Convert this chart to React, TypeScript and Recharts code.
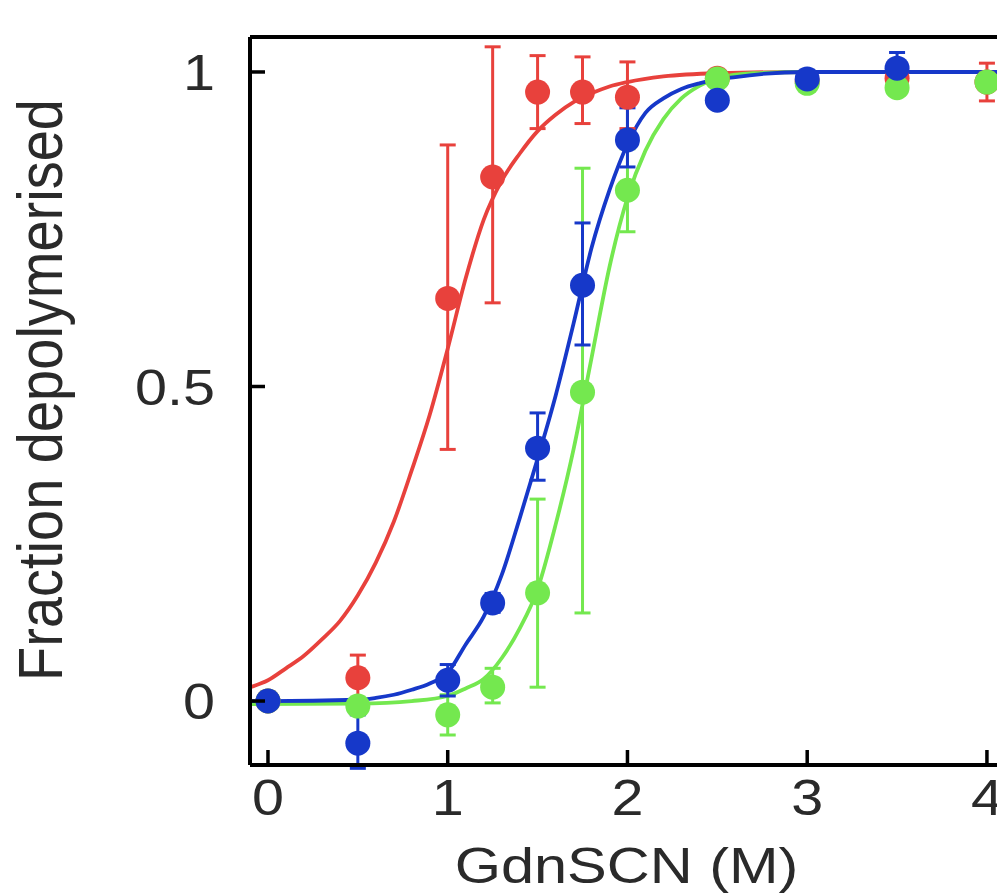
import React from 'react';
import { ComposedChart, Line, Scatter, XAxis, YAxis, ErrorBar, ReferenceLine } from 'recharts';

// ---- Data ----
const X_TICKS = [0, 1, 2, 3, 4];
const Y_TICKS = [0, 0.5, 1];
const X_DOMAIN: [number, number] = [-0.1, 4.056];
const Y_DOMAIN: [number, number] = [-0.1017, 1.0556];

const X_LABEL = 'GdnSCN (M)';
const Y_LABEL = 'Fraction depolymerised';

// measured points
const redX = [0, 0.5, 1, 1.25, 1.5, 1.75, 2, 2.5, 3, 3.5, 4];
const redY = [0.0, 0.037, 0.64, 0.833, 0.968, 0.968, 0.96, 0.99, 0.985, 0.99, 0.984];
const redErr = [[0.01, 0.01], [0.036, 0.036], [0.24, 0.244], [0.2, 0.207], [0.058, 0.058], [0.05, 0.056], [0.05, 0.056], [0.01, 0.01], [0.01, 0.01], [0.01, 0.01], [0.03, 0.03]];

const greenX = [0, 0.5, 1, 1.25, 1.5, 1.75, 2, 2.5, 3, 3.5, 4];
const greenY = [0.0, -0.008, -0.022, 0.022, 0.172, 0.491, 0.812, 0.989, 0.982, 0.975, 0.984];
const greenErr = [[0.01, 0.01], [0.01, 0.01], [0.032, 0.032], [0.025, 0.03], [0.15, 0.149], [0.351, 0.356], [0.066, 0.066], [0.01, 0.01], [0.01, 0.01], [0.01, 0.01], [0.01, 0.01]];

const blueX = [0, 0.5, 1, 1.25, 1.5, 1.75, 2, 2.5, 3, 3.5];
const blueY = [0.0, -0.067, 0.033, 0.156, 0.402, 0.661, 0.892, 0.955, 0.989, 1.006];
const blueErr = [[0.01, 0.01], [0.04, 0.045], [0.025, 0.025], [0.015, 0.015], [0.051, 0.056], [0.095, 0.099], [0.043, 0.051], [0.01, 0.01], [0.01, 0.01], [0.02, 0.025]];

// fitted curves
const redFitX = [-0.1, 0, 0.1, 0.2, 0.3, 0.4, 0.5, 0.6, 0.7, 0.8, 0.9, 1.0, 1.1, 1.2, 1.3, 1.4, 1.5, 1.6, 1.7, 1.8, 1.9, 2.0, 2.2, 2.5, 3.0, 4.056];
const redFitY = [0.022, 0.033, 0.052, 0.072, 0.098, 0.127, 0.168, 0.22, 0.285, 0.367, 0.455, 0.56, 0.672, 0.765, 0.827, 0.87, 0.906, 0.932, 0.952, 0.966, 0.977, 0.984, 0.993, 0.998, 1.0, 1.0];

const greenFitX = [-0.1, 0.5, 0.8, 1.0, 1.1, 1.2, 1.3, 1.4, 1.5, 1.6, 1.7, 1.8, 1.9, 2.0, 2.1, 2.2, 2.3, 2.4, 2.5, 2.7, 3.0, 4.056];
const greenFitY = [-0.005, -0.004, 0.0, 0.008, 0.02, 0.035, 0.068, 0.115, 0.178, 0.28, 0.4, 0.545, 0.69, 0.8, 0.875, 0.925, 0.958, 0.978, 0.99, 0.998, 1.0, 1.0];

const blueFitX = [-0.1, 0, 0.5, 0.6, 0.7, 0.8, 0.9, 1.0, 1.1, 1.2, 1.3, 1.4, 1.5, 1.6, 1.7, 1.8, 1.9, 2.0, 2.1, 2.2, 2.3, 2.4, 2.6, 3.0, 4.056];
const blueFitY = [0, 0, 0.002, 0.005, 0.01, 0.018, 0.028, 0.045, 0.09, 0.134, 0.2, 0.29, 0.385, 0.485, 0.6, 0.72, 0.812, 0.885, 0.935, 0.958, 0.973, 0.982, 0.992, 1.0, 1.0];

const RED = '#e8413c';
const GREEN = '#74e84f';
const BLUE = '#1638c9';
const TEXT = '#2a2a2a';
const FONT = '"Liberation Sans", Arial, sans-serif';

const pts = (xs: number[], ys: number[], errs?: number[][]) =>
  xs.map((x, i) => ({ x, y: ys[i], err: errs ? errs[i] : undefined }));

const redPts = pts(redX, redY, redErr);
const greenPts = pts(greenX, greenY, greenErr);
const bluePts = pts(blueX, blueY, blueErr);
const redFit = pts(redFitX, redFitY);
const greenFit = pts(greenFitX, greenFitY);
const blueFit = pts(blueFitX, blueFitY);

const fmt = (v: number) => (v === 0.5 ? '0.5' : String(v));

const YTick = (props: any) => {
  const { x, y, payload } = props;
  return (
    <g>
      <line x1={x} x2={x + 15} y1={y} y2={y} stroke="#000" strokeWidth={3.5} />
      <text
        transform={`translate(${x - 35},${y + 18}) scale(1.15,1)`}
        textAnchor="end"
        fontSize={50}
        fontFamily={FONT}
        fill={TEXT}
      >
        {fmt(payload.value)}
      </text>
    </g>
  );
};

const XTick = (props: any) => {
  const { x, y, payload } = props;
  return (
    <g>
      <line x1={x} x2={x} y1={y} y2={y - 15} stroke="#000" strokeWidth={3.5} />
      <text
        transform={`translate(${x},${y + 50}) scale(1.15,1)`}
        textAnchor="middle"
        fontSize={50}
        fontFamily={FONT}
        fill={TEXT}
      >
        {fmt(payload.value)}
      </text>
    </g>
  );
};

const XTitle = (props: any) => {
  const vb = props.viewBox || { x: 250, y: 765, width: 747, height: 128 };
  const cx = vb.x + vb.width / 2 + 3;
  return (
    <text
      transform={`translate(${cx},${vb.y + 118}) scale(1.19,1)`}
      textAnchor="middle"
      fontSize={50}
      fontFamily={FONT}
      fill={TEXT}
    >
      {X_LABEL}
    </text>
  );
};

const YTitle = (props: any) => {
  const vb = props.viewBox || { x: 0, y: 37, width: 250, height: 728 };
  const cy = vb.y + vb.height / 2 - 11;
  return (
    <text
      transform={`translate(${vb.x + 62},${cy}) scale(1.12,1) rotate(-90)`}
      textAnchor="middle"
      fontSize={56}
      fontFamily={FONT}
      fill={TEXT}
    >
      {Y_LABEL}
    </text>
  );
};

const Dot = (color: string) => (props: any) => {
  const { cx, cy } = props;
  if (cx == null || cy == null) return null;
  return <circle cx={cx} cy={cy} r={12.5} fill={color} />;
};

export default function App() {
  return (
    <div style={{ position: 'absolute', left: 0, top: 0, width: 997, height: 893, background: '#fff' }}>
      <ComposedChart width={997} height={893} margin={{ top: 37, right: 0, bottom: 0, left: 0 }}>
        <XAxis
          dataKey="x"
          type="number"
          domain={X_DOMAIN}
          allowDataOverflow
          ticks={X_TICKS}
          interval={0}
          height={128}
          tickSize={0}
          tickMargin={0}
          tickLine={false}
          tick={<XTick />}
          axisLine={{ stroke: '#000', strokeWidth: 4 }}
          label={<XTitle />}
        />
        <YAxis
          dataKey="y"
          type="number"
          domain={Y_DOMAIN}
          allowDataOverflow
          ticks={Y_TICKS}
          interval={0}
          width={250}
          tickSize={0}
          tickMargin={0}
          tickLine={false}
          tick={<YTick />}
          axisLine={{ stroke: '#000', strokeWidth: 4 }}
          label={<YTitle />}
        />
        <ReferenceLine y={Y_DOMAIN[1]} stroke="#000" strokeWidth={4} ifOverflow="visible" />
        <Line data={redFit} dataKey="y" type="monotone" stroke={RED} strokeWidth={3.8} dot={false} isAnimationActive={false} />
        <Line data={greenFit} dataKey="y" type="monotone" stroke={GREEN} strokeWidth={3.8} dot={false} isAnimationActive={false} />
        <Line data={blueFit} dataKey="y" type="monotone" stroke={BLUE} strokeWidth={3.8} dot={false} isAnimationActive={false} />
        <Scatter data={redPts} dataKey="y" fill={RED} shape={Dot(RED)} isAnimationActive={false}>
          <ErrorBar dataKey="err" direction="y" width={8} strokeWidth={3} stroke={RED} />
        </Scatter>
        <Scatter data={greenPts} dataKey="y" fill={GREEN} shape={Dot(GREEN)} isAnimationActive={false}>
          <ErrorBar dataKey="err" direction="y" width={8} strokeWidth={3} stroke={GREEN} />
        </Scatter>
        <Scatter data={bluePts} dataKey="y" fill={BLUE} shape={Dot(BLUE)} isAnimationActive={false}>
          <ErrorBar dataKey="err" direction="y" width={8} strokeWidth={3} stroke={BLUE} />
        </Scatter>
      </ComposedChart>
    </div>
  );
}
